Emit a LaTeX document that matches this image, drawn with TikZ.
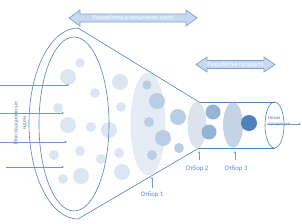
\documentclass[tikz,border=0pt]{standalone}
\usepackage{fontspec}
\setmainfont{Carlito}
\usetikzlibrary{arrows.meta}
\definecolor{lb}{HTML}{4F81BD}
\definecolor{txtb}{HTML}{5B8BC9}
\definecolor{arrc}{HTML}{6F98CD}
\definecolor{cLight}{HTML}{DCE6F2}
\definecolor{cMid}{HTML}{B9CDE5}
\definecolor{cMidDark}{HTML}{95B3D7}
\definecolor{selA}{HTML}{E6ECF5}
\definecolor{selB}{HTML}{DCE3EF}
\definecolor{selC}{HTML}{C6D3E6}
\definecolor{arfill}{HTML}{C6D9F1}
\definecolor{aredge}{HTML}{7EA2D0}
\begin{document}
\begin{tikzpicture}[x=1pt,y=-1pt,
  every node/.style={inner sep=0pt,outer sep=0pt},
  outline/.style={draw=lb,line width=0.6pt},
  bigarrow/.style={draw=aredge,fill=arfill,line width=0.7pt,line join=miter},
  arrowtext/.style={text=white,font=\fontsize{6.3}{7}\selectfont},
  thinarrow/.style={draw=arrc,line width=0.6pt,-{Stealth[length=2.4pt,width=2.2pt]}},
  lbl/.style={text=txtb,font=\fontsize{6.8}{8}\selectfont}]
\useasboundingbox (0,0) rectangle (302,223);

% light circles in funnel
\foreach \x/\y/\r in {80/63/4.7, 68/77/8, 120/82/8, 95/93/5, 58/108/5, 121/107/5,
  68/125/8, 91/127/5, 109/130/8, 54/155/5, 80/151/5, 101/159/5, 119/153/5,
  63/179/5, 81/176/8, 122/172/8}
  \fill[cLight] (\x,\y) circle[radius=\r pt];

% funnel outline
\draw[outline] (199,102) -- (78,28) arc[start angle=90,end angle=270,x radius=49pt,y radius=95.5pt] -- (199,148);
\draw[outline] (74,124) ellipse[x radius=35pt,y radius=87pt];

% selection 1
\fill[selA] (148,124) ellipse[x radius=17pt,y radius=51pt];
\draw[cLight,line width=0.5pt] (148,124) ellipse[x radius=17pt,y radius=51pt];
\foreach \x/\y/\r in {147/85/4.7, 157/101/8, 149/122/5, 163/138/8, 152/155/5}
  \fill[cMid] (\x,\y) circle[radius=\r pt];
\foreach \x/\y/\r in {178/117/8, 179/148/5}
  \fill[cMid] (\x,\y) circle[radius=\r pt];

% cylinder
\draw[outline] (199,102) -- (274.5,102);
\draw[outline] (199,148) -- (274.5,148);
\fill[selB] (197,125) ellipse[x radius=9.5pt,y radius=23pt];
\fill[cMidDark] (213,112) circle[radius=7.5pt];
\fill[cMidDark] (209,132) circle[radius=7.5pt];
\fill[selC] (233,125) ellipse[x radius=10pt,y radius=22.5pt];
\fill[lb] (249,123) circle[radius=8pt];
\draw[outline] (274.5,125) ellipse[x radius=9.5pt,y radius=23pt];

% top arrows
\draw[bigarrow] (69,18) -- (80,10) -- (80,14) -- (186,14) -- (186,10) -- (197,18)
  -- (186,26) -- (186,22) -- (80,22) -- (80,26) -- cycle;
\node[arrowtext] (ideasdev) at (133,18) {Разработка и испытание идей};
\draw[bigarrow] (196,64.5) -- (207,57) -- (207,60.5) -- (264,60.5) -- (264,57) -- (275,64.5)
  -- (264,72) -- (264,68.5) -- (207,68.5) -- (207,72) -- cycle;
\node[arrowtext] (proddev) at (235.5,64.5) {Разработка продукта};

% incoming ideas
\coordinate (s1) at (0,85);  \coordinate (e1) at (69,85);
\coordinate (s2) at (0,113); \coordinate (e2) at (64,113);
\coordinate (s3) at (0,142); \coordinate (e3) at (67,142);
\coordinate (s4) at (6,167); \coordinate (e4) at (64,167);
\foreach \i in {1,2,3,4} \draw[thinarrow] (s\i) -- (e\i);
\node[rotate=90,align=center,text=txtb,font=\fontsize{6}{8.5}\selectfont] (ideas) at (20.5,123) {Инновационные\\идеи};

% selection labels
\node[lbl] (o1) at (152,195) {Отбор 1};
\coordinate (o1s) at (152,188);
\coordinate (o1t) at (152,177);
\draw[thinarrow] (o1s) -- (o1t);
\node[lbl] (o2) at (197,169) {Отбор 2};
\coordinate (o2s) at (199,160);
\coordinate (o2t) at (199,151);
\draw[thinarrow] (o2s) -- (o2t);
\node[lbl] (o3) at (236,169) {Отбор 3};
\coordinate (o3s) at (235,160);
\coordinate (o3t) at (235,151);
\draw[thinarrow] (o3s) -- (o3t);

% new product
\node[align=left,text=lb,font=\fontsize{4.8}{5.8}\selectfont,anchor=west] (np) at (268,121.5) {Новая\\продукция};
\coordinate (npS) at (267,124);
\coordinate (npE) at (301,124);
\draw[thinarrow] (npS) -- (npE);
\end{tikzpicture}
\end{document}
